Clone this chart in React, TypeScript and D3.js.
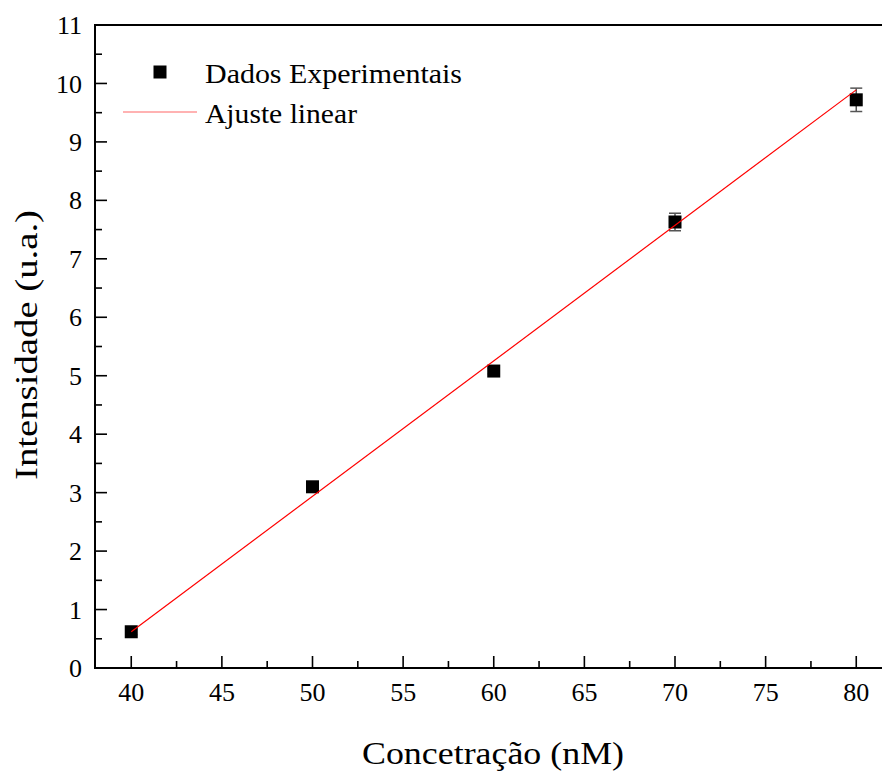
import React from "react";
import * as d3 from "d3";

const concentrations = [40, 50, 60, 70, 80];
const intensities = [0.62, 3.1, 5.08, 7.63, 9.72];
const errors = [0.05, 0.06, 0.05, 0.15, 0.2];
const fitX = [40, 80];
const fitY = [0.62, 9.89];
const xMajorTicks = [40, 45, 50, 55, 60, 65, 70, 75, 80];
const xMinorTicks = [42.5, 47.5, 52.5, 57.5, 62.5, 67.5, 72.5, 77.5, 82.5];
const yMajorTicks = [0, 1, 2, 3, 4, 5, 6, 7, 8, 9, 10, 11];
const yMinorTicks = [0.5, 1.5, 2.5, 3.5, 4.5, 5.5, 6.5, 7.5, 8.5, 9.5, 10.5];
const legendLabels = ["Dados Experimentais", "Ajuste linear"];
const xTitle = "Concetração (nM)";
const yTitle = "Intensidade  (u.a.)";

const W = 882;
const H = 772;
const FONT = "'Liberation Serif', 'Times New Roman', serif";

export default function App() {
  const left = 95;
  const top = 25;
  const bottom = 668;
  const x = d3.scaleLinear().domain([38, 83.5]).range([left, left + 45.5 * 18.125]);
  const y = d3.scaleLinear().domain([0, 11]).range([bottom, top]);
  const right = x(83.5);

  const fitLine = d3
    .line<number>()
    .x((_, i) => x(fitX[i]))
    .y((d) => y(d));

  const sq = 13;
  const cap = 6;

  return (
    <svg
      width={W}
      height={H}
      style={{ position: "absolute", left: 0, top: 0, background: "#fff" }}
      fontFamily={FONT}
    >
      <rect x={0} y={0} width={W} height={H} fill="#fff" />
      {/* frame */}
      <line x1={left} x2={right} y1={top} y2={top} stroke="#000" strokeWidth={2} />
      <line x1={left} x2={right} y1={bottom} y2={bottom} stroke="#000" strokeWidth={2} />
      <line x1={left} x2={left} y1={top - 1} y2={bottom + 1} stroke="#000" strokeWidth={2} />
      <line x1={right} x2={right} y1={top} y2={bottom} stroke="#000" strokeWidth={2} />

      {/* y ticks */}
      {yMajorTicks.map((t) => (
        <g key={"ym" + t}>
          <line x1={left} x2={left + 12} y1={y(t)} y2={y(t)} stroke="#000" strokeWidth={1.6} />
          <text x={82} y={y(t)} dy="0.35em" textAnchor="end" fontSize={26} fill="#000">
            {t}
          </text>
        </g>
      ))}
      {yMinorTicks.map((t) => (
        <line key={"yn" + t} x1={left} x2={left + 7} y1={y(t)} y2={y(t)} stroke="#000" strokeWidth={1.6} />
      ))}

      {/* x ticks */}
      {xMajorTicks.map((t) => (
        <g key={"xm" + t}>
          <line x1={x(t)} x2={x(t)} y1={bottom} y2={bottom - 12} stroke="#000" strokeWidth={1.6} />
          <text x={x(t)} y={701} textAnchor="middle" fontSize={26} fill="#000">
            {t}
          </text>
        </g>
      ))}
      {xMinorTicks.map((t) => (
        <line key={"xn" + t} x1={x(t)} x2={x(t)} y1={bottom} y2={bottom - 7} stroke="#000" strokeWidth={1.6} />
      ))}

      {/* axis titles */}
      <text x={493} y={764} textAnchor="middle" fontSize={31} textLength={262} lengthAdjust="spacingAndGlyphs" fill="#000">
        {xTitle}
      </text>
      <text
        transform={`translate(37,345) rotate(-90)`}
        textAnchor="middle"
        fontSize={31}
        textLength={270}
        lengthAdjust="spacingAndGlyphs"
        fill="#000"
      >
        {yTitle}
      </text>

      {/* error bars */}
      {concentrations.map((c, i) => (
        <g key={"e" + c} stroke="#555" strokeWidth={1.5}>
          <line x1={x(c)} x2={x(c)} y1={y(intensities[i] - errors[i])} y2={y(intensities[i] + errors[i])} />
          <line x1={x(c) - cap} x2={x(c) + cap} y1={y(intensities[i] + errors[i])} y2={y(intensities[i] + errors[i])} />
          <line x1={x(c) - cap} x2={x(c) + cap} y1={y(intensities[i] - errors[i])} y2={y(intensities[i] - errors[i])} />
        </g>
      ))}

      {/* markers */}
      {concentrations.map((c, i) => (
        <rect key={"p" + c} x={x(c) - sq / 2} y={y(intensities[i]) - sq / 2} width={sq} height={sq} fill="#000" />
      ))}

      {/* fit */}
      <path d={fitLine(fitY) || ""} fill="none" stroke="#ff0000" strokeWidth={1.2} />

      {/* legend */}
      <rect x={160 - sq / 2} y={72 - sq / 2} width={sq} height={sq} fill="#000" />
      <text x={205} y={83} fontSize={27} textLength={257} lengthAdjust="spacingAndGlyphs" fill="#000">
        {legendLabels[0]}
      </text>
      <line x1={123} x2={197} y1={112} y2={112} stroke="#ff0000" strokeWidth={1} opacity={0.6} />
      <text x={205} y={123} fontSize={27} textLength={152} lengthAdjust="spacingAndGlyphs" fill="#000">
        {legendLabels[1]}
      </text>
    </svg>
  );
}
